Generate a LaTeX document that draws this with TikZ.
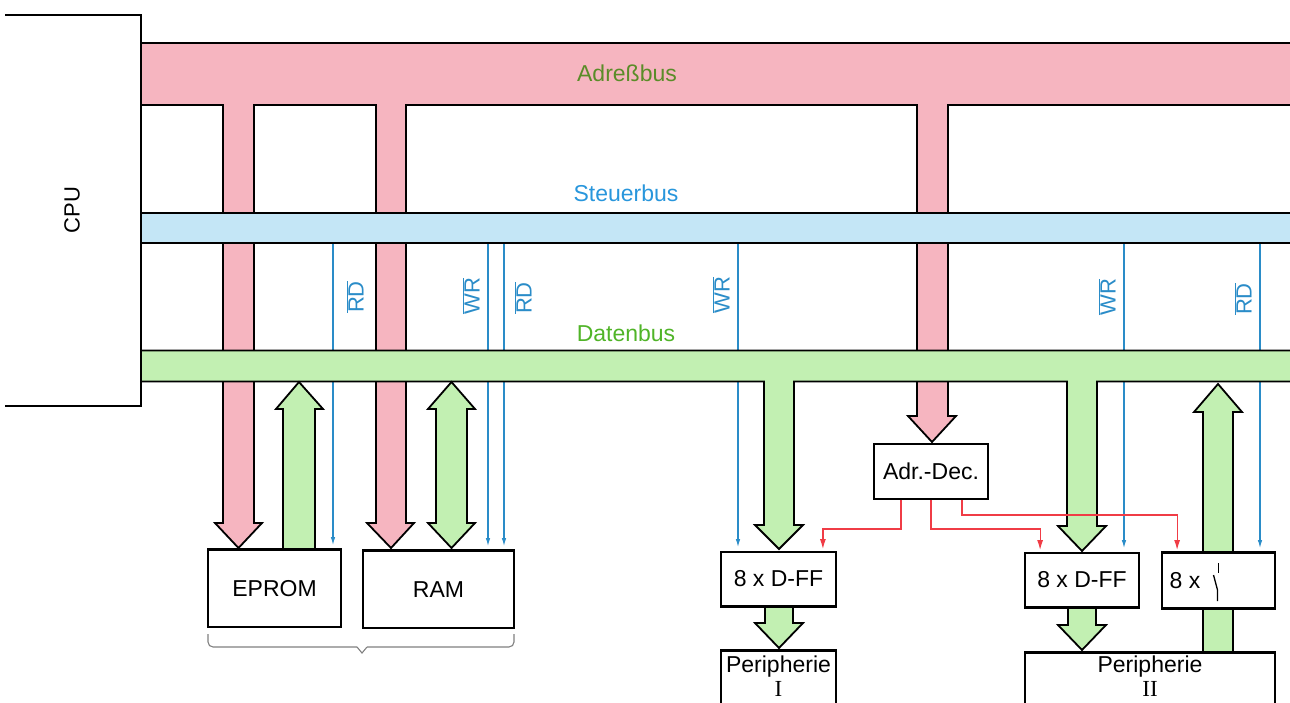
\documentclass[tikz,border=0pt]{standalone}
\usepackage{fontspec}
\setmainfont{Liberation Sans}
\newfontfamily\romserif{Liberation Serif}
\usetikzlibrary{arrows.meta}
\definecolor{adrfill}{HTML}{F6B5C0}
\definecolor{ctlfill}{HTML}{C4E6F6}
\definecolor{datfill}{HTML}{C2F0B2}
\definecolor{ctlline}{HTML}{2A8CC8}
\definecolor{decline}{HTML}{F03C46}
\definecolor{adrtext}{HTML}{5A8C28}
\definecolor{ctltext}{HTML}{2896DC}
\definecolor{dattext}{HTML}{50B428}
\definecolor{bracecol}{HTML}{808080}
\begin{document}
\begin{tikzpicture}[x=1pt,y=-1pt,
  busline/.style={draw=black,line width=1.8pt,line join=miter},
  adrbus/.style={busline,fill=adrfill},
  ctlbus/.style={busline,fill=ctlfill},
  datbus/.style={busline,fill=datfill},
  blk/.style={draw=black,fill=white,line width=1.8pt,inner sep=0pt,font=\fontsize{23}{26}\selectfont,align=center},
  txt/.style={font=\fontsize{23}{26}\selectfont,inner sep=0pt},
  ctl/.style={draw=ctlline,line width=1.1pt,-{Latex[length=8pt,width=4.5pt]}},
  dec/.style={draw=decline,line width=1.2pt,-{Latex[length=10pt,width=6pt]}},
  sig/.style={text=ctlline,rotate=90,font=\fontsize{22}{24}\selectfont,inner sep=0pt},
  buslabel/.style={font=\fontsize{23}{26}\selectfont,inner sep=0pt}]
\useasboundingbox (0,0) rectangle (1290,703);
\clip (0,0) rectangle (1290,703);

% Address bus with its branches
\path[adrbus] (141,43) -- (1300,43) -- (1300,105) -- (948,105) -- (948,416) -- (956,416) -- (932,442) -- (908,416) -- (917,416) -- (917,105)
  -- (406,105) -- (406,523) -- (414,523) -- (391,548) -- (367,523) -- (376,523) -- (376,105)
  -- (254,105) -- (254,523) -- (262,523) -- (238.5,548) -- (215,523) -- (223,523) -- (223,105) -- (141,105) -- cycle;

% blocks
\node[blk,minimum width=133pt,minimum height=77pt] (eprom) at (274.5,588.5) {EPROM};
\node[blk,minimum width=151pt,minimum height=77pt] (ram) at (438.5,589.5) {RAM};
\node[blk,minimum width=114pt,minimum height=55pt] (dec) at (931,471.5) {Adr.-Dec.};
\node[blk,minimum width=115pt,minimum height=54pt] (dff1) at (778.5,579) {8 x D-FF};
\node[blk,minimum width=114pt,minimum height=54pt] (dff2) at (1082,580) {8 x D-FF};
\node[blk,minimum width=113pt,minimum height=55pt] (sw) at (1218.5,580.5) {};
\node[blk,minimum width=115pt,minimum height=58pt] (per1) at (778.5,680) {};
\node[blk,minimum width=250pt,minimum height=56pt] (per2) at (1150,681) {};

% control lines
\coordinate (r1) at (333,243);
\coordinate (r2) at (488,243);
\coordinate (r3) at (504,243);
\coordinate (r4) at (738,243);
\coordinate (r5) at (1124,243);
\coordinate (r6) at (1260,243);
\draw[ctl] (r1) -- ([yshift=4pt]eprom.north -| r1);
\draw[ctl] (r2) -- ([yshift=4pt]ram.north -| r2);
\draw[ctl] (r3) -- ([yshift=4pt]ram.north -| r3);
\draw[ctl] (r4) -- ([yshift=4pt]dff1.north -| r4);
\draw[ctl] (r5) -- ([yshift=4pt]dff2.north -| r5);
\draw[ctl] (r6) -- ([yshift=4pt]sw.north -| r6);

% control bus
\path[ctlbus] (141,213) rectangle (1300,243);

% data bus with its branches
\path[datbus] (141,350.5) -- (1300,350.5) -- (1300,381.5) -- (1097,381.5) -- (1097,526) -- (1106,526) -- (1082,551) -- (1058,526) -- (1067,526) -- (1067,381.5)
  -- (794,381.5) -- (794,525) -- (803,525) -- (779,549) -- (755,525) -- (764,525) -- (764,381.5) -- (141,381.5) -- cycle;

% data arrows
\path[datbus] (283,550) -- (283,409) -- (276,409) -- (299,382) -- (323,409) -- (315,409) -- (315,550) -- cycle;
\path[datbus] (436,409) -- (428,409) -- (451.5,382) -- (475,409) -- (467,409) -- (467,523) -- (475,523) -- (451.5,548) -- (428,523) -- (436,523) -- cycle;
\path[datbus] (765,606) -- (765,623) -- (755,623) -- (779,648) -- (803,623) -- (793,623) -- (793,606) -- cycle;
\path[datbus] (1068,607) -- (1068,625) -- (1058,625) -- (1082,650) -- (1106,625) -- (1096,625) -- (1096,607) -- cycle;
\path[datbus] (1203,553) -- (1203,412) -- (1194,412) -- (1218,384) -- (1242,412) -- (1233,412) -- (1233,553) -- cycle;
\path[datbus] (1203,608) rectangle (1233,653);

% redraw block frames over arrows
\draw[line width=1.8pt] (eprom.north west) -- (eprom.north east);
\draw[line width=1.8pt] (ram.north west) -- (ram.north east);
\draw[line width=1.8pt] (sw.north west) -- (sw.north east);
\draw[line width=1.8pt] (sw.south west) -- (sw.south east);
\draw[line width=1.8pt] (per1.north west) -- (per1.north east);
\draw[line width=1.8pt] (per2.north west) -- (per2.north east);
\draw[line width=1.8pt] (dff1.south west) -- (dff1.south east);
\draw[line width=1.8pt] (dff2.south west) -- (dff2.south east);

% peripheral texts
\node[txt] (per1a) at (778.5,667) {Peripherie};
\node[txt,font=\fontsize{23}{26}\romserif] (per1b) at (778.5,689) {I};
\node[txt] (per2a) at (1150,667) {Peripherie};
\node[txt,font=\fontsize{23}{26}\romserif] (per2b) at (1150,689) {II};

% switch box content
\node[txt] (swtext) at (1185,581) {8 x};
\draw[line width=1.3pt] (1218.5,563) -- (1218.5,573);
\draw[line width=1.3pt] (1217.5,601) -- (1217.5,590) -- (1213.5,575);

% decoder lines
\draw[dec] ([xshift=-30pt]dec.south) -- ++(0,29) -| ([xshift=-14pt,yshift=2pt]dff1.north east);
\draw[dec] (dec.south) -- ++(0,29) -| ([xshift=16pt,yshift=2pt]dff2.north west);
\draw[dec] ([xshift=31pt]dec.south) -- ++(0,15) -| ([xshift=16pt,yshift=2pt]sw.north west);

% CPU
\draw[line width=1.6pt] (5,15) -- (141,15) -- (141,406) -- (5,406);
\node[rotate=90,font=\fontsize{22}{24}\selectfont,inner sep=0pt] (cpu) at (72,210) {CPU};

% bus labels
\node[buslabel,text=adrtext] (adrlabel) at (627,73) {Adreßbus};
\node[buslabel,text=ctltext] (ctllabel) at (626,193) {Steuerbus};
\node[buslabel,text=dattext] (datlabel) at (626,333) {Datenbus};

% signal labels
\node[sig] (l1) at (355,297) {$\overline{\hbox{RD}}$};
\node[sig] (l2) at (471,296) {$\overline{\hbox{WR}}$};
\node[sig] (l3) at (523,298) {$\overline{\hbox{RD}}$};
\node[sig] (l4) at (721,295) {$\overline{\hbox{WR}}$};
\node[sig] (l5) at (1107,297) {$\overline{\hbox{WR}}$};
\node[sig] (l6) at (1243,299) {$\overline{\hbox{RD}}$};

% brace under EPROM and RAM
\draw[bracecol,line width=1.1pt,rounded corners=5pt] (208,634) -- (208,647) -- (357,647);
\draw[bracecol,line width=1.1pt] (357,647) -- (362,653) -- (367,647);
\draw[bracecol,line width=1.1pt,rounded corners=5pt] (367,647) -- (514,647) -- (514,634);
\end{tikzpicture}
\end{document}
